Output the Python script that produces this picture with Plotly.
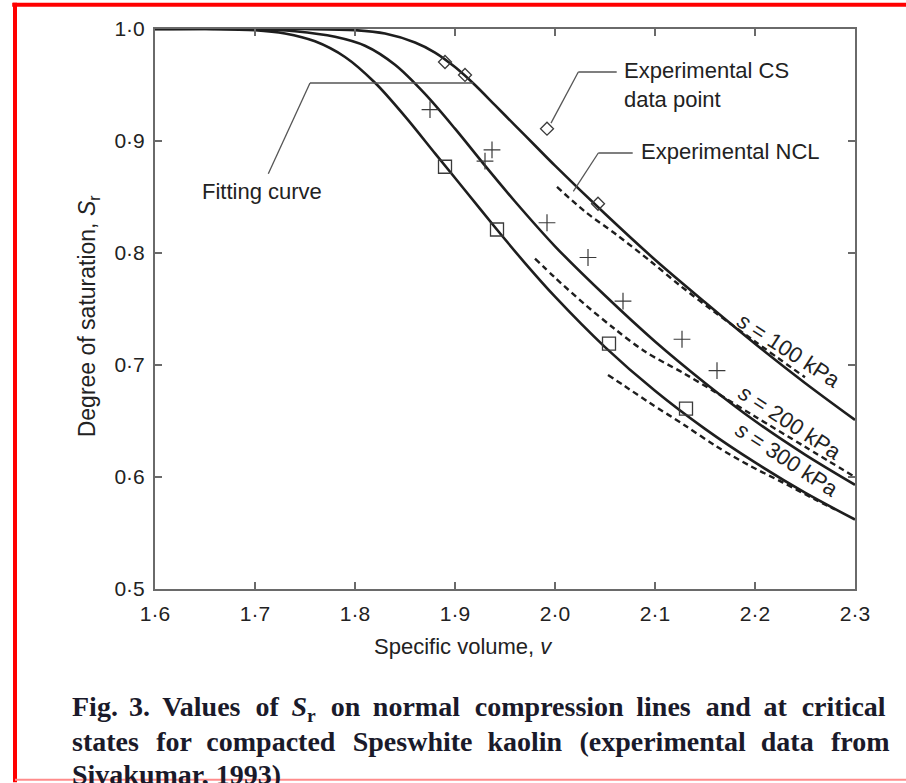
import plotly.graph_objects as go

# ---------------- data ----------------
x_ticks = [1.6, 1.7, 1.8, 1.9, 2.0, 2.1, 2.2, 2.3]
x_tick_text = ["1·6", "1·7", "1·8", "1·9", "2·0", "2·1", "2·2", "2·3"]
y_ticks = [0.5, 0.6, 0.7, 0.8, 0.9, 1.0]
y_tick_text = ["0·5", "0·6", "0·7", "0·8", "0·9", "1·0"]

# fitting curves (solid)
fit100_x = [1.60, 1.75, 1.80, 1.83, 1.86, 1.88, 1.90, 1.92, 1.94, 1.96, 1.98, 2.00, 2.05, 2.10, 2.15, 2.20, 2.25, 2.30]
fit100_y = [1.0, 1.0, 0.999, 0.996, 0.988, 0.979, 0.966, 0.950, 0.932, 0.914, 0.896, 0.878, 0.835, 0.794, 0.756, 0.719, 0.684, 0.651]
fit200_x = [1.60, 1.70, 1.74, 1.78, 1.81, 1.84, 1.87, 1.90, 1.93, 1.96, 2.00, 2.05, 2.10, 2.15, 2.20, 2.25, 2.30]
fit200_y = [1.0, 1.0, 0.998, 0.993, 0.985, 0.968, 0.942, 0.911, 0.878, 0.846, 0.806, 0.762, 0.721, 0.684, 0.650, 0.620, 0.593]
fit300_x = [1.60, 1.65, 1.70, 1.73, 1.76, 1.79, 1.82, 1.85, 1.88, 1.91, 1.94, 1.97, 2.00, 2.05, 2.10, 2.15, 2.20, 2.25, 2.30]
fit300_y = [1.0, 1.0, 0.999, 0.996, 0.989, 0.975, 0.952, 0.922, 0.889, 0.856, 0.823, 0.791, 0.761, 0.716, 0.677, 0.643, 0.613, 0.586, 0.562]

# experimental NCLs (dashed)
ncl100_x = [2.002, 2.03, 2.062, 2.095, 2.125, 2.16, 2.20, 2.25]
ncl100_y = [0.859, 0.837, 0.816, 0.793, 0.771, 0.747, 0.721, 0.689]
ncl200_x = [1.98, 2.00, 2.03, 2.06, 2.09, 2.128, 2.16, 2.20, 2.25, 2.30]
ncl200_y = [0.795, 0.778, 0.754, 0.732, 0.712, 0.693, 0.676, 0.654, 0.627, 0.600]
ncl300_x = [2.053, 2.07, 2.095, 2.13, 2.162, 2.195, 2.228, 2.26, 2.28]
ncl300_y = [0.691, 0.681, 0.666, 0.646, 0.627, 0.610, 0.595, 0.580, 0.571]

# experimental critical-state data points
cs100_x = [1.89, 1.91, 1.992, 2.043]
cs100_y = [0.9705, 0.959, 0.911, 0.844]
cs200_x = [1.875, 1.93, 1.937, 1.992, 2.033, 2.068, 2.127, 2.162]
cs200_y = [0.928, 0.882, 0.892, 0.827, 0.796, 0.757, 0.723, 0.695]
cs300_x = [1.89, 1.942, 2.054, 2.131]
cs300_y = [0.877, 0.821, 0.719, 0.661]

# ---------------- figure ----------------
LINE = "#1e1e1e"
MARK = "#3a3a3a"
AX = "#6a6a6a"
SANS = "Liberation Sans, Arial, sans-serif"
SERIF = "Liberation Serif, Times New Roman, serif"

fig = go.Figure()

for xs, ys in [(fit100_x, fit100_y), (fit200_x, fit200_y), (fit300_x, fit300_y)]:
    fig.add_trace(go.Scatter(x=xs, y=ys, mode="lines",
                             line=dict(color=LINE, width=2.6, shape="spline", smoothing=0.9),
                             showlegend=False, hoverinfo="skip"))

for xs, ys in [(ncl100_x, ncl100_y), (ncl200_x, ncl200_y), (ncl300_x, ncl300_y)]:
    fig.add_trace(go.Scatter(x=xs, y=ys, mode="lines",
                             line=dict(color=LINE, width=2.4, dash="6px,4px", shape="spline", smoothing=0.9),
                             showlegend=False, hoverinfo="skip"))

fig.add_trace(go.Scatter(x=cs100_x, y=cs100_y, mode="markers",
                         marker=dict(symbol="diamond-open", size=10, color=MARK, line=dict(width=1.3, color=MARK)),
                         showlegend=False, hoverinfo="skip"))
fig.add_trace(go.Scatter(x=cs200_x, y=cs200_y, mode="markers",
                         marker=dict(symbol="cross-thin-open", size=12, color=MARK, line=dict(width=1.2, color=MARK)),
                         showlegend=False, hoverinfo="skip"))
fig.add_trace(go.Scatter(x=cs300_x, y=cs300_y, mode="markers",
                         marker=dict(symbol="square-open", size=13, color=MARK, line=dict(width=1.3, color=MARK)),
                         showlegend=False, hoverinfo="skip"))

axis_common = dict(showline=True, linecolor=AX, linewidth=2, mirror="ticks",
                   ticks="inside", ticklen=7, tickwidth=1.5, tickcolor=AX,
                   showgrid=False, zeroline=False,
                   tickfont=dict(family=SANS, size=21, color="#222"))

fig.update_xaxes(range=[1.6, 2.3], tickvals=x_ticks, ticktext=x_tick_text,
                 ticklabelstandoff=5, **axis_common)
fig.update_yaxes(range=[0.5, 1.0], tickvals=y_ticks, ticktext=y_tick_text,
                 ticklabelstandoff=4, **axis_common)

ann = []
TXT = dict(family=SANS, size=22, color="#222")
# callout texts
ann.append(dict(x=2.067, y=0.9503, xref="x", yref="y", text="Experimental CS<br>data point",
                showarrow=False, xanchor="left", yanchor="middle", align="left", font=TXT))
ann.append(dict(x=2.0837, y=0.8907, xref="x", yref="y", text="Experimental NCL",
                showarrow=False, xanchor="left", yanchor="middle", align="left", font=TXT))
ann.append(dict(x=1.6447, y=0.855, xref="x", yref="y", text="Fitting curve",
                showarrow=False, xanchor="left", yanchor="middle", align="left", font=TXT))
# curve labels
for lab, xx, yy in [("100", 2.234, 0.7128), ("200", 2.235, 0.6483), ("300", 2.232, 0.6153)]:
    ann.append(dict(x=xx, y=yy, xref="x", yref="y", text="<i>s</i> = " + lab + " kPa",
                    showarrow=False, xanchor="center", yanchor="middle", textangle=33, font=TXT))
# axis titles
ann.append(dict(x=0.44, y=-0.103, xref="paper", yref="paper", text="Specific volume, <i>v</i>",
                showarrow=False, xanchor="center", yanchor="middle", font=dict(family=SANS, size=22, color="#222")))
ann.append(dict(x=-0.0957, y=0.487, xref="paper", yref="paper",
                text="Degree of saturation, <i>S</i><sub>r</sub>", textangle=-90,
                showarrow=False, xanchor="center", yanchor="middle", font=dict(family=SANS, size=23, color="#222")))
# caption
CAP = dict(family=SERIF, size=28, color="#1a1a2a")
cap_lines = [
    "<b>Fig.\u2009\u20093.\u2009 Values \u2009\u200aof \u2009<i>S</i><sub>r</sub> \u2009\u200aon \u2009normal \u2009\u200acompression \u2009lines \u2009\u200aand \u2009at \u2009\u200acritical</b>",
    "<b>states \u2009\u200a\u200afor \u2009\u200acompacted \u2009\u200a\u200aSpeswhite \u2009\u200akaolin \u2009\u200a\u200a(experimental \u2009\u200adata \u2009\u200a\u200afrom</b>",
    "<b>Sivakumar, 1993)</b>",
]
for i, t in enumerate(cap_lines):
    ann.append(dict(x=-0.1216, y=-0.214 - 0.0589 * i, xref="paper", yref="paper", text=t,
                    showarrow=False, xanchor="left", yanchor="middle", align="left", font=CAP))

shapes = []
LEAD = dict(color="#555", width=1.3)
# leader lines
for pts in [
    [(2.0617, 0.9616), (2.0233, 0.9616), (1.996, 0.916)],
    [(2.0777, 0.8893), (2.0433, 0.8893), (2.0183, 0.855)],
    [(1.7133, 0.8708), (1.755, 0.9518), (1.9183, 0.9518)],
]:
    for (xa, ya), (xb, yb) in zip(pts[:-1], pts[1:]):
        shapes.append(dict(type="line", xref="x", yref="y", x0=xa, y0=ya, x1=xb, y1=yb, line=LEAD))

# red page frame
shapes.append(dict(type="line", xref="paper", yref="paper", x0=-0.204, x1=1.08, y0=1.0434, y1=1.0434,
                   line=dict(color="#ff0000", width=4)))
shapes.append(dict(type="line", xref="paper", yref="paper", x0=-0.2, x1=-0.2, y0=1.047, y1=-0.345,
                   line=dict(color="#ff0000", width=4)))
shapes.append(dict(type="line", xref="paper", yref="paper", x0=-0.2, x1=1.08, y0=-0.3405, y1=-0.3405,
                   line=dict(color="#ff8c8c", width=2)))

fig.update_layout(width=906, height=783,
                  margin=dict(l=155, r=51, t=29, b=194),
                  paper_bgcolor="white", plot_bgcolor="white",
                  annotations=ann, shapes=shapes, showlegend=False)

fig.write_html("out.html")
